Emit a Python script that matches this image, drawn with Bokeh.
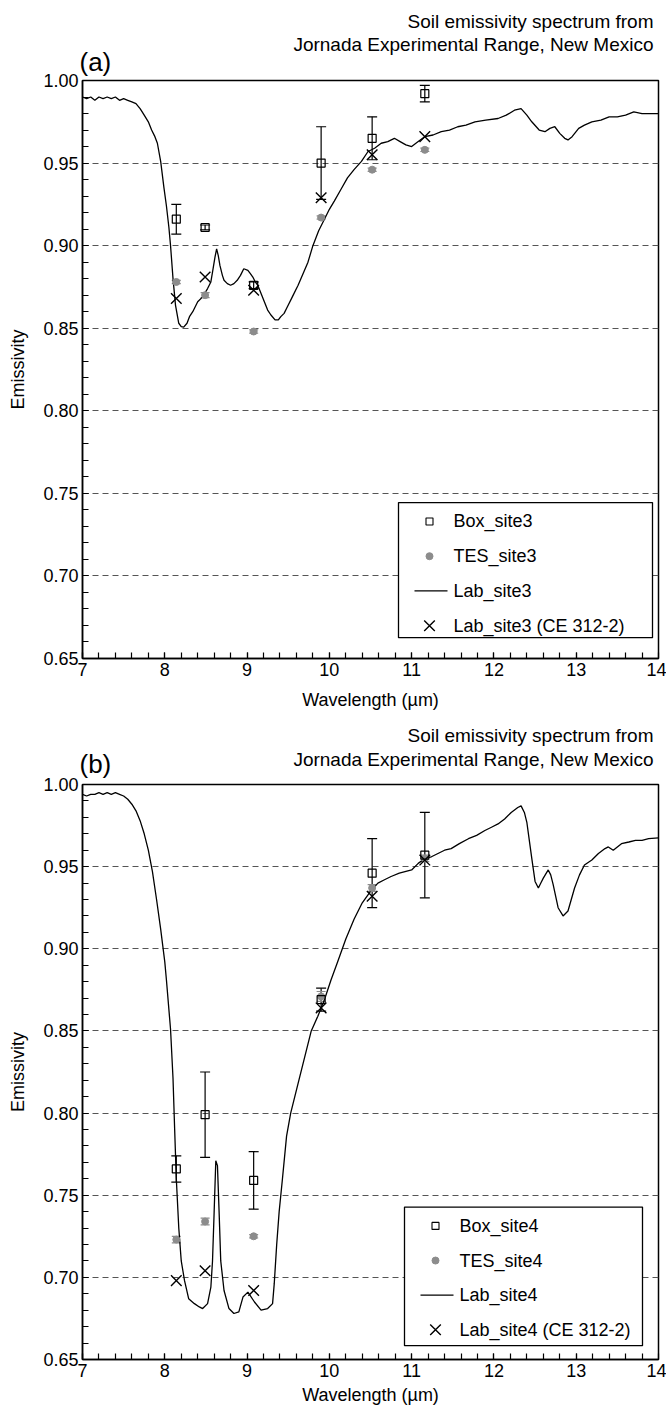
import numpy as np
from bokeh.plotting import figure
from bokeh.models import (Range1d, FixedTicker, Whisker, ColumnDataSource, Label,
                          TeeHead, NumeralTickFormatter)
from bokeh.layouts import column
from bokeh.embed import file_html
from bokeh.resources import INLINE
from bokeh.core.properties import value

# ---------------- data ----------------
band_wl = [8.14, 8.49, 9.08, 9.90, 10.52, 11.16]

box3 = [0.916, 0.911, 0.876, 0.950, 0.965, 0.992]
box3_err = [0.009, 0.0015, 0.002, 0.022, 0.013, 0.005]
tes3 = [0.878, 0.870, 0.848, 0.917, 0.946, 0.958]
tes3_err = [0.001, 0.0015, 0.001, 0.001, 0.001, 0.001]
ce3 = [0.868, 0.881, 0.873, 0.929, 0.955, 0.966]

lab3_wl = [7.00, 7.05, 7.10, 7.15, 7.20, 7.25, 7.30, 7.35, 7.40, 7.45, 7.50, 7.55, 7.60,
           7.65, 7.70, 7.75, 7.80, 7.84, 7.88, 7.91, 7.95, 7.99, 8.02, 8.05, 8.07, 8.10,
           8.13, 8.17, 8.20, 8.23, 8.27, 8.30, 8.34, 8.37, 8.40, 8.46, 8.52, 8.56, 8.58,
           8.61, 8.63, 8.65, 8.67, 8.70, 8.72, 8.76, 8.80, 8.84, 8.88, 8.92, 8.96, 9.01,
           9.04, 9.07, 9.10, 9.13, 9.17, 9.21, 9.25, 9.29, 9.34, 9.38, 9.41, 9.45, 9.49,
           9.55, 9.62, 9.68, 9.74, 9.80, 9.87, 9.94, 10.00, 10.06, 10.14, 10.22, 10.30,
           10.39, 10.47, 10.55, 10.63, 10.71, 10.79, 10.86, 10.93, 11.00, 11.08, 11.16,
           11.26, 11.36, 11.46, 11.56, 11.66, 11.77, 11.90, 12.05, 12.15, 12.25, 12.33,
           12.40, 12.46, 12.55, 12.62, 12.68, 12.74, 12.80, 12.86, 12.90, 12.95, 13.03,
           13.10, 13.19, 13.30, 13.40, 13.50, 13.60, 13.70, 13.80, 13.90, 14.00]
lab3 = [0.990, 0.989, 0.990, 0.988, 0.990, 0.989, 0.990, 0.989, 0.990, 0.988, 0.989, 0.988, 0.987,
        0.986, 0.983, 0.979, 0.975, 0.970, 0.966, 0.962, 0.951, 0.935, 0.924, 0.911, 0.900, 0.880,
        0.864, 0.853, 0.851, 0.8507, 0.853, 0.857, 0.860, 0.863, 0.866, 0.869, 0.874, 0.878, 0.884,
        0.893, 0.898, 0.894, 0.888, 0.882, 0.879, 0.877, 0.876, 0.877, 0.879, 0.882, 0.886, 0.885,
        0.883, 0.881, 0.878, 0.876, 0.871, 0.866, 0.861, 0.858, 0.855, 0.855, 0.857, 0.859, 0.863,
        0.869, 0.876, 0.883, 0.890, 0.900, 0.909, 0.916, 0.922, 0.927, 0.934, 0.941, 0.946,
        0.951, 0.957, 0.959, 0.962, 0.963, 0.965, 0.963, 0.961, 0.960, 0.963, 0.966,
        0.967, 0.969, 0.970, 0.972, 0.973, 0.975, 0.976, 0.977, 0.979, 0.982, 0.983,
        0.979, 0.975, 0.970, 0.969, 0.971, 0.972, 0.968, 0.965, 0.964, 0.966, 0.971,
        0.973, 0.975, 0.976, 0.978, 0.978, 0.979, 0.981, 0.980, 0.980, 0.980]

box4 = [0.766, 0.799, 0.759, 0.869, 0.946, 0.957]
box4_err = [0.008, 0.026, 0.0175, 0.007, 0.021, 0.026]
tes4 = [0.723, 0.734, 0.725, 0.871, 0.937, 0.955]
tes4_err = [0.002, 0.002, 0.001, 0.003, 0.002, 0.002]
ce4 = [0.698, 0.704, 0.692, 0.864, 0.932, 0.954]

lab4_wl = [7.00, 7.05, 7.10, 7.15, 7.20, 7.25, 7.30, 7.35, 7.40, 7.45, 7.50, 7.55, 7.60,
           7.65, 7.70, 7.75, 7.80, 7.85, 7.90, 7.95, 8.00, 8.02, 8.07, 8.10, 8.12, 8.14,
           8.17, 8.20, 8.24, 8.29, 8.36, 8.42, 8.46, 8.52, 8.56, 8.58, 8.60, 8.62, 8.64,
           8.66, 8.68, 8.72, 8.78, 8.84, 8.90, 8.95, 9.01, 9.09, 9.17, 9.25, 9.31, 9.33,
           9.36, 9.39, 9.43, 9.48, 9.53, 9.63, 9.78, 9.86, 9.94, 10.02, 10.10, 10.20,
           10.30, 10.40, 10.50, 10.59, 10.67, 10.75, 10.85, 11.00, 11.08, 11.16, 11.24,
           11.32, 11.40, 11.48, 11.58, 11.69, 11.79, 11.89, 11.97, 12.05, 12.13, 12.21,
           12.29, 12.33, 12.37, 12.40, 12.43, 12.46, 12.50, 12.54, 12.57, 12.60, 12.66,
           12.69, 12.72, 12.75, 12.78, 12.84, 12.90, 12.94, 12.98, 13.04, 13.10, 13.19,
           13.27, 13.35, 13.39, 13.45, 13.50, 13.55, 13.64, 13.72, 13.80, 13.88, 14.00]
lab4 = [0.994, 0.993, 0.994, 0.994, 0.995, 0.994, 0.995, 0.994, 0.995, 0.994, 0.993, 0.991, 0.988,
        0.984, 0.978, 0.970, 0.960, 0.947, 0.930, 0.912, 0.892, 0.881, 0.851, 0.821, 0.790, 0.760,
        0.730, 0.710, 0.698, 0.687, 0.684, 0.682, 0.681, 0.684, 0.694, 0.710, 0.740, 0.771, 0.768,
        0.740, 0.710, 0.692, 0.681, 0.678, 0.679, 0.688, 0.691, 0.685, 0.680, 0.681, 0.684, 0.696,
        0.720, 0.740, 0.760, 0.786, 0.800, 0.820, 0.850, 0.859, 0.869, 0.881, 0.892, 0.906,
        0.918, 0.928, 0.935, 0.940, 0.942, 0.944, 0.946, 0.948, 0.952, 0.955, 0.956,
        0.958, 0.960, 0.961, 0.964, 0.967, 0.969, 0.972, 0.974, 0.976, 0.979, 0.983,
        0.986, 0.987, 0.983, 0.977, 0.966, 0.955, 0.941, 0.937, 0.940, 0.943, 0.948,
        0.945, 0.939, 0.932, 0.925, 0.920, 0.923, 0.930, 0.937, 0.945, 0.951, 0.954,
        0.958, 0.961, 0.962, 0.960, 0.962, 0.964, 0.965, 0.966, 0.966, 0.967, 0.9675]

x_ticks = [7, 8, 9, 10, 11, 12, 13, 14]
y_ticks = [0.65, 0.70, 0.75, 0.80, 0.85, 0.90, 0.95, 1.00]

title1 = "Soil emissivity spectrum from"
title2 = "Jornada Experimental Range, New Mexico"

FONT = "Liberation Sans"
FW = 576
TES_COLOR = "#8c8c8c"


def make_panel(tag, lab_wl, lab, box, box_err, tes, tes_err, ce, names,
               top_b, fh, bot_b, xlab_standoff, leg, label_y):
    p = figure(width=82 + FW + 8, height=top_b + fh + bot_b,
               x_range=Range1d(7, 14), y_range=Range1d(0.65, 1.0),
               output_backend="svg", toolbar_location=None, title=None,
               min_border_left=82, min_border_right=8,
               min_border_top=top_b, min_border_bottom=bot_b,
               background_fill_color="white", border_fill_color="white")
    p.outline_line_color = "black"
    p.outline_line_width = 1.5

    p.xaxis.ticker = FixedTicker(ticks=x_ticks, minor_ticks=list(np.arange(7, 14.001, 0.2)))
    p.yaxis.ticker = FixedTicker(ticks=y_ticks, minor_ticks=list(np.arange(0.65, 1.0001, 0.01)))
    p.yaxis.formatter = NumeralTickFormatter(format="0.00")
    for ax in (p.xaxis[0], p.yaxis[0]):
        ax.major_tick_in = 6
        ax.major_tick_out = 0
        ax.minor_tick_in = 6
        ax.minor_tick_out = 0
        ax.axis_line_color = "black"
        ax.axis_line_width = 1.5
        ax.major_tick_line_color = "black"
        ax.minor_tick_line_color = "black"
        ax.major_tick_line_width = 1.2
        ax.minor_tick_line_width = 1.2
        ax.major_label_text_font = FONT
        ax.major_label_text_font_size = "18px"
        ax.major_label_text_color = "black"
        ax.major_label_standoff = 4
        ax.axis_label_text_font = FONT
        ax.axis_label_text_font_size = "18px"
        ax.axis_label_text_font_style = "normal"
        ax.axis_label_text_color = "black"
    p.yaxis.axis_label = "Emissivity"
    p.yaxis.axis_label_standoff = 12
    p.xaxis.axis_label = "Wavelength (µm)"
    p.xaxis.axis_label_standoff = xlab_standoff

    p.xgrid.visible = False
    p.ygrid.grid_line_color = "#555555"
    p.ygrid.grid_line_dash = "6 4"
    p.ygrid.grid_line_width = 1.2

    # lab spectrum
    p.line(lab_wl, lab, line_color="black", line_width=1.3)

    # error bars
    bsrc = ColumnDataSource(dict(x=band_wl,
                                 lo=[v - e for v, e in zip(box, box_err)],
                                 hi=[v + e for v, e in zip(box, box_err)]))
    p.add_layout(Whisker(source=bsrc, base="x", lower="lo", upper="hi",
                         line_color="black", line_width=1.2,
                         upper_head=TeeHead(size=10, line_color="black", line_width=1.2),
                         lower_head=TeeHead(size=10, line_color="black", line_width=1.2)))
    tsrc = ColumnDataSource(dict(x=band_wl,
                                 lo=[v - e for v, e in zip(tes, tes_err)],
                                 hi=[v + e for v, e in zip(tes, tes_err)]))
    p.add_layout(Whisker(source=tsrc, base="x", lower="lo", upper="hi",
                         line_color=TES_COLOR, line_width=1.2,
                         upper_head=TeeHead(size=9, line_color=TES_COLOR, line_width=1.2),
                         lower_head=TeeHead(size=9, line_color=TES_COLOR, line_width=1.2)))

    p.scatter(band_wl, tes, marker="circle", size=7, fill_color=TES_COLOR,
              line_color=TES_COLOR)
    p.scatter(band_wl, box, marker="square", size=8, fill_alpha=0,
              line_color="black", line_width=1.2)
    p.scatter(band_wl, ce, marker="x", size=15, line_color="black", line_width=1.4)

    # legend (frame pixel coordinates)
    p.extra_x_ranges = {"px": Range1d(0, FW)}
    p.extra_y_ranges = {"py": Range1d(0, fh)}
    L, R, T, B = leg
    rows = [T - 19, T - 54, T - 89, T - 124]
    mx = L + 31
    p.quad(left=[L], right=[R], top=[T], bottom=[B], x_range_name="px", y_range_name="py",
           fill_color="white", line_color="black", line_width=1.3)
    p.scatter([mx], [rows[0]], marker="square", size=7, fill_alpha=0, line_color="black",
              line_width=1.1, x_range_name="px", y_range_name="py")
    p.scatter([mx], [rows[1]], marker="circle", size=7, fill_color=TES_COLOR,
              line_color=TES_COLOR, x_range_name="px", y_range_name="py")
    p.line([L + 16, L + 49], [rows[2], rows[2]], line_color="black", line_width=1.3,
           x_range_name="px", y_range_name="py")
    p.scatter([mx], [rows[3]], marker="x", size=15, line_color="black", line_width=1.4,
              x_range_name="px", y_range_name="py")
    p.text(x=[L + 55] * 4, y=rows, text=names, text_baseline="middle", text_align="left",
           text_font=value(FONT), text_font_size="18px", text_color="black",
           x_range_name="px", y_range_name="py")

    # panel tag and titles, stacked in the area above the frame (added nearest first)
    y_tag, y_t2, y_t1 = label_y
    specs = [(-3, y_tag, tag, "left", "26px"),
             (571, y_t2, title2, "right", "19px"),
             (571, y_t1, title1, "right", "19px")]
    for x, y, t, al, fs in specs:
        p.add_layout(Label(x=x, y=y, x_units="screen", y_units="screen", text=t,
                           text_align=al, text_baseline="middle", text_font=FONT,
                           text_font_size=fs, text_color="black"), "above")
    return p


pa = make_panel("(a)", lab3_wl, lab3, box3, box3_err, tes3, tes3_err, ce3,
                ["Box_site3", "TES_site3", "Lab_site3", "Lab_site3 (CE 312-2)"],
                top_b=80, fh=582, bot_b=50, xlab_standoff=11,
                leg=(316, 570, 157, 21), label_y=(19, 6, 8))
pb = make_panel("(b)", lab4_wl, lab4, box4, box4_err, tes4, tes4_err, ce4,
                ["Box_site4", "TES_site4", "Lab_site4", "Lab_site4 (CE 312-2)"],
                top_b=71, fh=581, bot_b=43, xlab_standoff=5,
                leg=(322, 560, 154, 14), label_y=(21, -5, -2))

layout = column(pa, pb, spacing=0)
open("out.html", "w").write(file_html(layout, INLINE))
